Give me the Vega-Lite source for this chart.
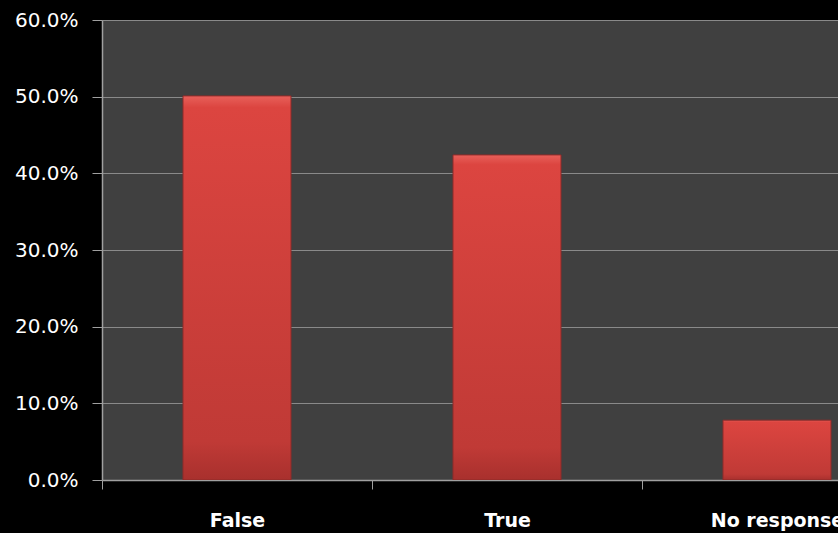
{
  "$schema": "https://vega.github.io/schema/vega-lite/v6.json",
  "autosize": {"type": "none"},
  "padding": {"left": 102, "top": 20, "right": 0, "bottom": 53},
  "width": 736,
  "height": 460,
  "background": "#000000",
  "config": {
    "view": {"fill": "#404040", "stroke": null},
    "axis": {"labelFont": "DejaVu Sans", "labelColor": "#ffffff", "labelFontSize": 20}
  },
  "data": {
    "values": [
      {"answer": "False", "share": 0.501},
      {"answer": "True", "share": 0.424},
      {"answer": "No response", "share": 0.078}
    ]
  },
  "mark": {
    "type": "bar",
    "clip": true,
    "stroke": "#8e2b29",
    "strokeWidth": 1,
    "color": {
      "gradient": "linear",
      "x1": 0, "y1": 0, "x2": 0, "y2": 1,
      "stops": [
        {"offset": 0, "color": "#e8605a"},
        {"offset": 0.03, "color": "#dc4540"},
        {"offset": 0.9, "color": "#c03a36"},
        {"offset": 1, "color": "#a8302d"}
      ]
    }
  },
  "encoding": {
    "x": {
      "field": "answer",
      "type": "nominal",
      "sort": ["False", "True", "No response"],
      "scale": {"range": [0, 810], "paddingInner": 0.6, "paddingOuter": 0.3},
      "axis": {
        "title": null,
        "labelAngle": 0,
        "labelFontWeight": "bold",
        "labelFontSize": 19,
        "labelPadding": 22,
        "tickOffset": -135,
        "labelOffset": 135,
        "tickColor": "#a0a0a0",
        "tickSize": 9,
        "domainColor": "#a0a0a0",
        "domainWidth": 1.5,
        "grid": false
      }
    },
    "y": {
      "field": "share",
      "type": "quantitative",
      "scale": {"domain": [0, 0.6]},
      "axis": {
        "title": null,
        "format": ".1%",
        "values": [0, 0.1, 0.2, 0.3, 0.4, 0.5, 0.6],
        "labelOverlap": false,
        "labelPadding": 14,
        "tickColor": "#a0a0a0",
        "tickSize": 10,
        "domainColor": "#a0a0a0",
        "domainWidth": 1.5,
        "gridColor": "#8a8a8a",
        "gridWidth": 1.2
      }
    }
  }
}
